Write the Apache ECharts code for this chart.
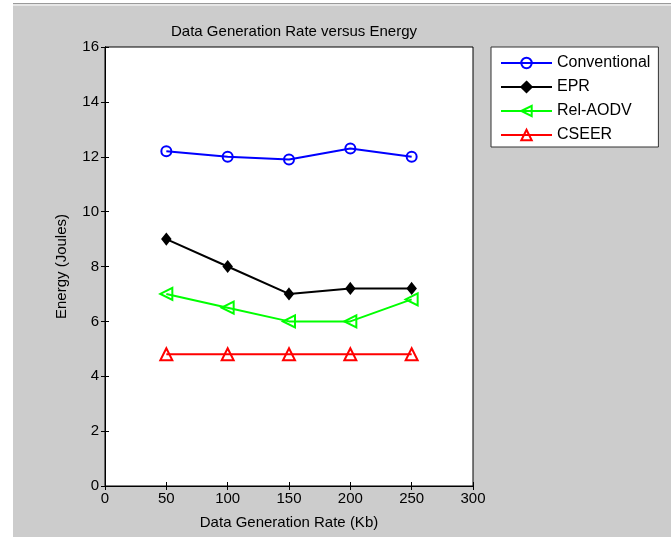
<!DOCTYPE html>
<html>
<head>
<meta charset="utf-8">
<script src="https://cdn.jsdelivr.net/npm/echarts@6/dist/echarts.min.js"></script>
<style>
html,body{margin:0;padding:0;background:#fff;}
#c{width:671px;height:537px;}
</style>
</head>
<body>
<div id="c"></div>
<script>
const rates = [50, 100, 150, 200, 250];
const conventional = [12.2, 12.0, 11.9, 12.3, 12.0];
const epr = [9.0, 8.0, 7.0, 7.2, 7.2];
const relAodv = [7.0, 6.5, 6.0, 6.0, 6.8];
const cseer = [4.8, 4.8, 4.8, 4.8, 4.8];
const seriesNames = ['Conventional', 'EPR', 'Rel-AODV', 'CSEER'];

const FONT = '"Liberation Sans", Arial, sans-serif';
const chart = echarts.init(document.getElementById('c'));

function pairs(vals){ return rates.map((r,i)=>[r, vals[i]]); }

function mk(name, vals, color, symbol, size, rot, filled){
  return {
    name: name, type: 'line', data: pairs(vals),
    symbol: symbol, symbolSize: size, symbolRotate: rot,
    showAllSymbol: true,
    lineStyle: {color: color, width: 2},
    itemStyle: {color: filled ? color : 'rgba(255,255,255,0)', borderColor: color, borderWidth: 2},
    emphasis: {disabled: true},
    animation: false
  };
}

const tickStyle = {color:'#000', fontFamily: FONT, fontSize: 15};

chart.setOption({
  backgroundColor: '#cccccc',
  animation: false,
  graphic: [
    {type:'rect', left:0, top:0, shape:{width:13, height:537}, style:{fill:'#ffffff'}, z:-10},
    {type:'rect', left:13, top:0, shape:{width:658, height:3}, style:{fill:'#ffffff'}, z:-10},
    {type:'rect', left:13, top:3, shape:{width:658, height:1}, style:{fill:'#9a9a9a'}, z:-10},
    {type:'rect', left:13, top:4, shape:{width:658, height:2}, style:{fill:'#e6e6e6'}, z:-10}
  ],
  title: {
    text: 'Data Generation Rate versus Energy',
    left: 289, top: 19, textAlign: 'center',
    textStyle: {fontFamily: FONT, fontSize: 15, fontWeight: 'normal', color: '#000'}
  },
  legend: {
    data: seriesNames,
    orient: 'vertical',
    left: 491, top: 47,
    padding: [8, 8, 4, 9],
    itemGap: 8,
    itemWidth: 51, itemHeight: 13,
    backgroundColor: '#ffffff',
    borderColor: '#333333', borderWidth: 1, borderRadius: 0,
    textStyle: {fontFamily: FONT, fontSize: 16, color:'#000', padding:[0,0,0,0], lineHeight: 16},
    selectedMode: false
  },
  grid: {left: 105, top: 47, width: 368, height: 439, show: true, backgroundColor: '#ffffff', borderColor: '#000', borderWidth: 1},
  xAxis: [{
    type: 'value', min: 0, max: 300, interval: 50, position: 'bottom',
    name: 'Data Generation Rate (Kb)', nameLocation: 'middle', nameGap: 29,
    nameTextStyle: {fontFamily: FONT, fontSize: 15, color: '#000'},
    axisLine: {lineStyle: {color: '#000'}},
    axisTick: {inside: true, length: 4, lineStyle: {color:'#000'}},
    axisLabel: Object.assign({margin: 5}, tickStyle),
    splitLine: {show: false}
  },{
    type: 'value', min: 0, max: 300, interval: 50, position: 'top',
    axisLine: {lineStyle: {color: '#000'}},
    axisTick: {inside: true, length: 4, lineStyle: {color:'#000'}},
    axisLabel: {show: false}, splitLine: {show: false}
  }],
  yAxis: [{
    type: 'value', min: 0, max: 16, interval: 2, position: 'left',
    name: 'Energy (Joules)', nameLocation: 'middle', nameGap: 36,
    nameTextStyle: {fontFamily: FONT, fontSize: 15, color: '#000'},
    axisLine: {lineStyle: {color: '#000'}},
    axisTick: {inside: true, length: 4, lineStyle: {color:'#000'}},
    axisLabel: Object.assign({margin: 6}, tickStyle),
    splitLine: {show: false}
  },{
    type: 'value', min: 0, max: 16, interval: 2, position: 'right',
    axisLine: {lineStyle: {color: '#000'}},
    axisTick: {inside: true, length: 4, lineStyle: {color:'#000'}},
    axisLabel: {show: false}, splitLine: {show: false}
  }],
  series: [
    mk('Conventional', conventional, '#0000ff', 'circle', 10, 0, false),
    mk('EPR', epr, '#000000', 'diamond', [8, 10], 0, true),
    mk('Rel-AODV', relAodv, '#00ff00', 'triangle', 12, 90, false),
    mk('CSEER', cseer, '#ff0000', 'triangle', 12, 0, false)
  ]
});
</script>
</body>
</html>
